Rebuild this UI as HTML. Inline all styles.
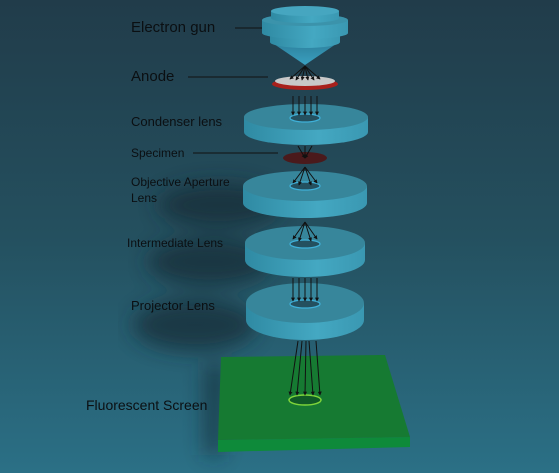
<!DOCTYPE html>
<html><head><meta charset="utf-8"><style>
html,body{margin:0;padding:0;width:559px;height:473px;overflow:hidden}
svg{display:block}
text{font-family:"Liberation Sans","DejaVu Sans",sans-serif;fill:#0b0f12}
</style></head><body>
<svg width="559" height="473" viewBox="0 0 559 473">
<defs>
<linearGradient id="bg" x1="0" y1="0" x2="0" y2="1">
<stop offset="0" stop-color="#213c4a"/><stop offset="0.5" stop-color="#24505f"/><stop offset="1" stop-color="#2b7086"/>
</linearGradient>
<linearGradient id="side" x1="0" y1="0" x2="1" y2="0">
<stop offset="0" stop-color="#2f8aa3"/><stop offset="0.6" stop-color="#44a8c2"/><stop offset="1" stop-color="#3a98b2"/>
</linearGradient>
<linearGradient id="cone" x1="0" y1="0" x2="0" y2="1">
<stop offset="0" stop-color="#2c7f9b"/><stop offset="1" stop-color="#3aa0c0"/>
</linearGradient>
<filter id="blur"><feGaussianBlur stdDeviation="10"/></filter>
<marker id="ah" viewBox="0 0 6 6" refX="5" refY="3" markerWidth="4" markerHeight="4" orient="auto"><path d="M0,0L6,3L0,6z" fill="#111"/></marker>
</defs>
<rect width="559" height="473" fill="url(#bg)"/>
<g fill="#162c36" opacity="0.7" filter="url(#blur)">
<ellipse cx="220" cy="205" rx="62" ry="22"/>
<ellipse cx="210" cy="262" rx="62" ry="24"/>
<ellipse cx="195" cy="325" rx="62" ry="26"/>
<polygon points="205,365 225,365 222,455 205,455"/>
</g>
<g>
<polygon points="218,440 410,437 410,447 218,452" fill="#0e8a3a"/>
<polygon points="221,357 385,355 410,437 218,440" fill="#167a32"/>
<ellipse cx="305" cy="400" rx="16" ry="5" fill="#0f5a26" stroke="#7ed43a" stroke-width="1.5"/>
</g>
<g id="lenses">
<g>
<path d="M246,303 L246,320 A59,20 0 0 0 364,320 L364,303 Z" fill="url(#side)"/>
<ellipse cx="305" cy="303" rx="59" ry="20" fill="#37869b"/>
<ellipse cx="305" cy="304" rx="15" ry="4" fill="#24505f" stroke="#3fb0d8" stroke-width="1.3"/>
</g>
<g>
<path d="M245,243 L245,260 A60,17 0 0 0 365,260 L365,243 Z" fill="url(#side)"/>
<ellipse cx="305" cy="243" rx="60" ry="17" fill="#37869b"/>
<ellipse cx="305" cy="244" rx="15" ry="4" fill="#24505f" stroke="#3fb0d8" stroke-width="1.3"/>
</g>
<g>
<path d="M243,186 L243,203 A62,15 0 0 0 367,203 L367,186 Z" fill="url(#side)"/>
<ellipse cx="305" cy="186" rx="62" ry="15" fill="#37869b"/>
<ellipse cx="305" cy="186" rx="15" ry="4" fill="#24505f" stroke="#3fb0d8" stroke-width="1.3"/>
</g>
<ellipse cx="305" cy="158" rx="22" ry="6" fill="#4a1a1c"/>
<g>
<path d="M244,117 L244,132 A62,13 0 0 0 368,132 L368,117 Z" fill="url(#side)"/>
<ellipse cx="306" cy="117" rx="62" ry="13" fill="#37869b"/>
<ellipse cx="305" cy="118" rx="15" ry="4" fill="#24505f" stroke="#3fb0d8" stroke-width="1.3"/>
</g>
<g>
<ellipse cx="305" cy="84" rx="33" ry="6" fill="#a8201c"/>
<ellipse cx="305" cy="81" rx="30" ry="5" fill="#c8c8c8"/>
</g>
<g>
<polygon points="271,42 339,42 305,65" fill="url(#cone)"/>
<path d="M270,35 L270,42 A35,6 0 0 0 340,42 L340,35 Z" fill="url(#side)"/>
<path d="M262,20 L262,33 A43,6 0 0 0 348,33 L348,20 Z" fill="url(#side)"/>
<ellipse cx="305" cy="20" rx="43" ry="6" fill="#3b93ab"/>
<path d="M271,11 L271,18 A34,5 0 0 0 339,18 L339,11 Z" fill="url(#side)"/>
<ellipse cx="305" cy="11" rx="34" ry="5" fill="#46a6c0"/>
</g>
</g>
<g stroke="#111" stroke-width="1" marker-end="url(#ah)">
<line x1="305" y1="66" x2="296" y2="80"/><line x1="305" y1="66" x2="302" y2="80"/><line x1="305" y1="66" x2="308" y2="80"/><line x1="305" y1="66" x2="314" y2="80"/><line x1="305" y1="66" x2="290" y2="79"/><line x1="305" y1="66" x2="320" y2="79"/>
<line x1="293" y1="96" x2="293" y2="115"/><line x1="299" y1="96" x2="299" y2="115"/><line x1="305" y1="96" x2="305" y2="115"/><line x1="311" y1="96" x2="311" y2="115"/><line x1="317" y1="96" x2="317" y2="115"/>
<line x1="298" y1="146" x2="305" y2="158"/><line x1="312" y1="146" x2="305" y2="158"/><line x1="305" y1="146" x2="305" y2="158"/>
<line x1="305" y1="167" x2="293" y2="183"/><line x1="305" y1="167" x2="299" y2="185"/><line x1="305" y1="167" x2="311" y2="185"/><line x1="305" y1="167" x2="317" y2="183"/>
<line x1="305" y1="222" x2="293" y2="239"/><line x1="305" y1="222" x2="299" y2="241"/><line x1="305" y1="222" x2="311" y2="241"/><line x1="305" y1="222" x2="317" y2="239"/>
<line x1="293" y1="278" x2="293" y2="301"/><line x1="299" y1="278" x2="299" y2="301"/><line x1="305" y1="278" x2="305" y2="301"/><line x1="311" y1="278" x2="311" y2="301"/><line x1="317" y1="278" x2="317" y2="301"/>
<line x1="298" y1="341" x2="290" y2="395"/><line x1="302" y1="341" x2="297" y2="395"/><line x1="306" y1="341" x2="305" y2="395"/><line x1="309" y1="341" x2="313" y2="395"/><line x1="316" y1="341" x2="320" y2="395"/>
</g>
<g>
<text x="131" y="32" font-size="15">Electron gun</text>
<line x1="235" y1="28" x2="262" y2="28" stroke="#111"/>
<text x="131" y="81" font-size="15">Anode</text>
<line x1="188" y1="77" x2="268" y2="77" stroke="#111"/>
<text x="131" y="126" font-size="13">Condenser lens</text>
<text x="131" y="157" font-size="12">Specimen</text>
<line x1="193" y1="153" x2="278" y2="153" stroke="#111"/>
<text x="131" y="186" font-size="12">Objective Aperture</text>
<text x="131" y="202" font-size="12">Lens</text>
<text x="127" y="247" font-size="12">Intermediate Lens</text>
<text x="131" y="310" font-size="13">Projector Lens</text>
<text x="86" y="410" font-size="14">Fluorescent Screen</text>
</g>
</svg>
</body></html>
